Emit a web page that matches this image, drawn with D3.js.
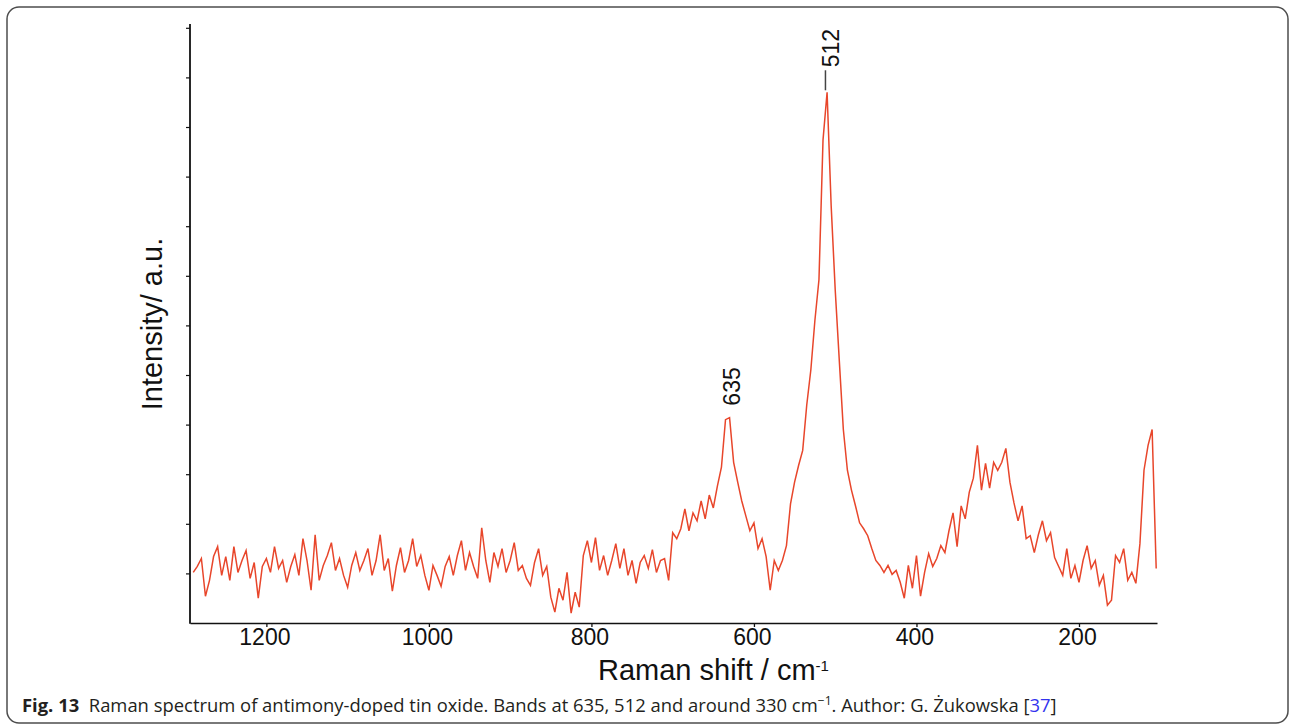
<!DOCTYPE html>
<html lang="en">
<head>
<meta charset="UTF-8" />
<title>Raman spectrum of antimony-doped tin oxide</title>
<script src="https://d3js.org/d3.v7.min.js"></script>
<style>
  body { margin: 0; background: #fff; }
  svg { display: block; }
  .axis text { font-family: "Liberation Sans", Arial, sans-serif; font-size: 23px; fill: #111; }
  .axis line, .axis path { stroke: #111; }
  .caption { font-family: "Open Sans", "Noto Sans", sans-serif; font-size: 18px; fill: #231f20; white-space: pre; }
</style>
</head>
<body>
<svg id="chart" width="1290" height="725"></svg>
<script>
// Raman shift grid (cm-1), sampled every 5 cm-1 from 1290 down to 105
const ramanShift = d3.range(1290, 104, -5);

// intensity (a.u.), one row per 100 cm-1
const intensity = [
  51, 57, 65, 27, 43, 67, 77, 48, 67, 43, 77, 51, 63, 73, 45, 61, 25, 57, 65, 51,
  77, 55, 63, 41, 57, 69, 48, 85, 63, 33, 89, 43, 58, 68, 81, 53, 65, 48, 36, 58,
  71, 53, 63, 75, 48, 63, 89, 53, 65, 32, 58, 76, 51, 63, 85, 57, 68, 48, 33, 58,
  48, 37, 57, 67, 48, 68, 83, 53, 71, 57, 45, 96, 63, 41, 71, 57, 75, 51, 63, 81,
  53, 58, 45, 38, 61, 75, 48, 57, 26, 11, 35, 23, 51, 10, 31, 16, 68, 83, 61, 86,
  53, 68, 48, 63, 80, 55, 75, 48, 63, 40, 61, 68, 55, 74, 51, 63, 65, 43, 91, 85,
  95, 115, 93, 111, 103, 123, 105, 129, 116, 138, 157, 205, 207, 162, 142, 123, 108, 93, 101, 75,
  85, 67, 33, 63, 53, 63, 78, 120, 142, 159, 174, 220, 255, 305, 346, 487, 535, 421, 336, 265,
  195, 154, 134, 118, 101, 95, 88, 75, 63, 58, 51, 58, 49, 53, 41, 25, 58, 35, 68, 27,
  51, 70, 57, 65, 78, 71, 93, 111, 77, 118, 105, 132, 146, 179, 134, 161, 136, 162, 154, 162,
  176, 142, 121, 103, 118, 85, 88, 71, 89, 103, 83, 91, 66, 57, 48, 75, 45, 58, 41, 63,
  78, 55, 63, 38, 48, 18, 23, 68, 61, 75, 43, 51, 40, 80, 154, 179, 195, 55
];

const xTicks = [1200, 1000, 800, 600, 400, 200];
const bandLabels = [
  { shift: 635, text: "635", leader: false },
  { shift: 512, text: "512", leader: true }
];

const data = ramanShift.map((s, i) => ({ s: s, v: intensity[i] }));

const svg = d3.select("#chart");

// figure frame
svg.append("rect")
  .attr("x", 7).attr("y", 7)
  .attr("width", 1281).attr("height", 716)
  .attr("rx", 12)
  .attr("fill", "none")
  .attr("stroke", "#4d4d4d")
  .attr("stroke-width", 1.5);

const x = d3.scaleLinear().domain([1294, 104]).range([190, 1157]);
const y = d3.scaleLinear().domain([0, 600]).range([623, 27.8]);

// x axis
const xAxis = svg.append("g")
  .attr("class", "axis")
  .attr("transform", `translate(0,${y(0)})`)
  .call(d3.axisBottom(x).tickValues(xTicks).tickFormat(d3.format("d"))
    .tickSize(4).tickSizeOuter(0).tickPadding(2));
xAxis.select(".domain").attr("stroke-width", 1.6);
xAxis.selectAll(".tick line").attr("stroke-width", 1.3);
xAxis.selectAll("text").attr("dx", -2);

// y axis (no labels, only ticks)
const yAxis = svg.append("g")
  .attr("class", "axis")
  .attr("transform", "translate(190,0)")
  .call(d3.axisLeft(y).tickValues(d3.range(50, 601, 50)).tickSize(4).tickFormat(""));
yAxis.select(".domain").remove();
yAxis.selectAll(".tick line").attr("stroke-width", 1.2);
svg.append("line")
  .attr("x1", 190).attr("x2", 190)
  .attr("y1", 24).attr("y2", y(0) + 0.8)
  .attr("stroke", "#111")
  .attr("stroke-width", 1.8);

// spectrum
const line = d3.line().x(d => x(d.s)).y(d => y(d.v));
svg.append("path")
  .datum(data)
  .attr("fill", "none")
  .attr("stroke", "#e8462b")
  .attr("stroke-width", 1.5)
  .attr("stroke-linejoin", "miter")
  .attr("d", line);

// band labels
bandLabels.forEach(b => {
  const near = data.filter(d => Math.abs(d.s - b.shift) <= 6);
  const top = y(d3.max(near, d => d.v));
  let start = top - 12;
  if (b.leader) {
    svg.append("line")
      .attr("x1", x(b.shift)).attr("x2", x(b.shift))
      .attr("y1", top - 2).attr("y2", top - 22)
      .attr("stroke", "#444")
      .attr("stroke-width", 1.5);
    start = top - 25;
  }
  svg.append("text")
    .attr("transform", `translate(${x(b.shift) + 14},${start}) rotate(-90)`)
    .attr("font-family", "Liberation Sans, Arial, sans-serif")
    .attr("font-size", 23)
    .attr("fill", "#111")
    .text(b.text);
});

// axis titles
svg.append("text")
  .attr("transform", "translate(162,324) rotate(-90)")
  .attr("text-anchor", "middle")
  .attr("font-family", "Liberation Sans, Arial, sans-serif")
  .attr("font-size", 29)
  .attr("fill", "#111")
  .text("Intensity/ a.u.");

const xTitle = svg.append("text")
  .attr("x", 598).attr("y", 680)
  .attr("font-family", "Liberation Sans, Arial, sans-serif")
  .attr("font-size", 29)
  .attr("fill", "#111");
xTitle.append("tspan").text("Raman shift / cm");
xTitle.append("tspan").attr("font-size", 15).attr("dy", -9).text("-1");

// caption, sized so that it spans the same width as in the figure
const cap = svg.append("text")
  .attr("class", "caption")
  .attr("x", 22).attr("y", 712);
cap.append("tspan").attr("font-weight", "bold").text("Fig. 13");
cap.append("tspan").text("  Raman spectrum of antimony-doped tin oxide. Bands at 635, 512 and around 330 cm");
cap.append("tspan").attr("font-size", "0.66em").attr("dy", -7).text("\u22121");
cap.append("tspan").attr("dy", 7).text(". Author: G. \u017bukowska [");
cap.append("tspan").attr("fill", "#3333ee").text("37");
cap.append("tspan").text("]");
const capWidth = 1035;
const capLen = cap.node().getComputedTextLength();
cap.style("font-size", (18 * capWidth / capLen).toFixed(2) + "px");
</script>
</body>
</html>
